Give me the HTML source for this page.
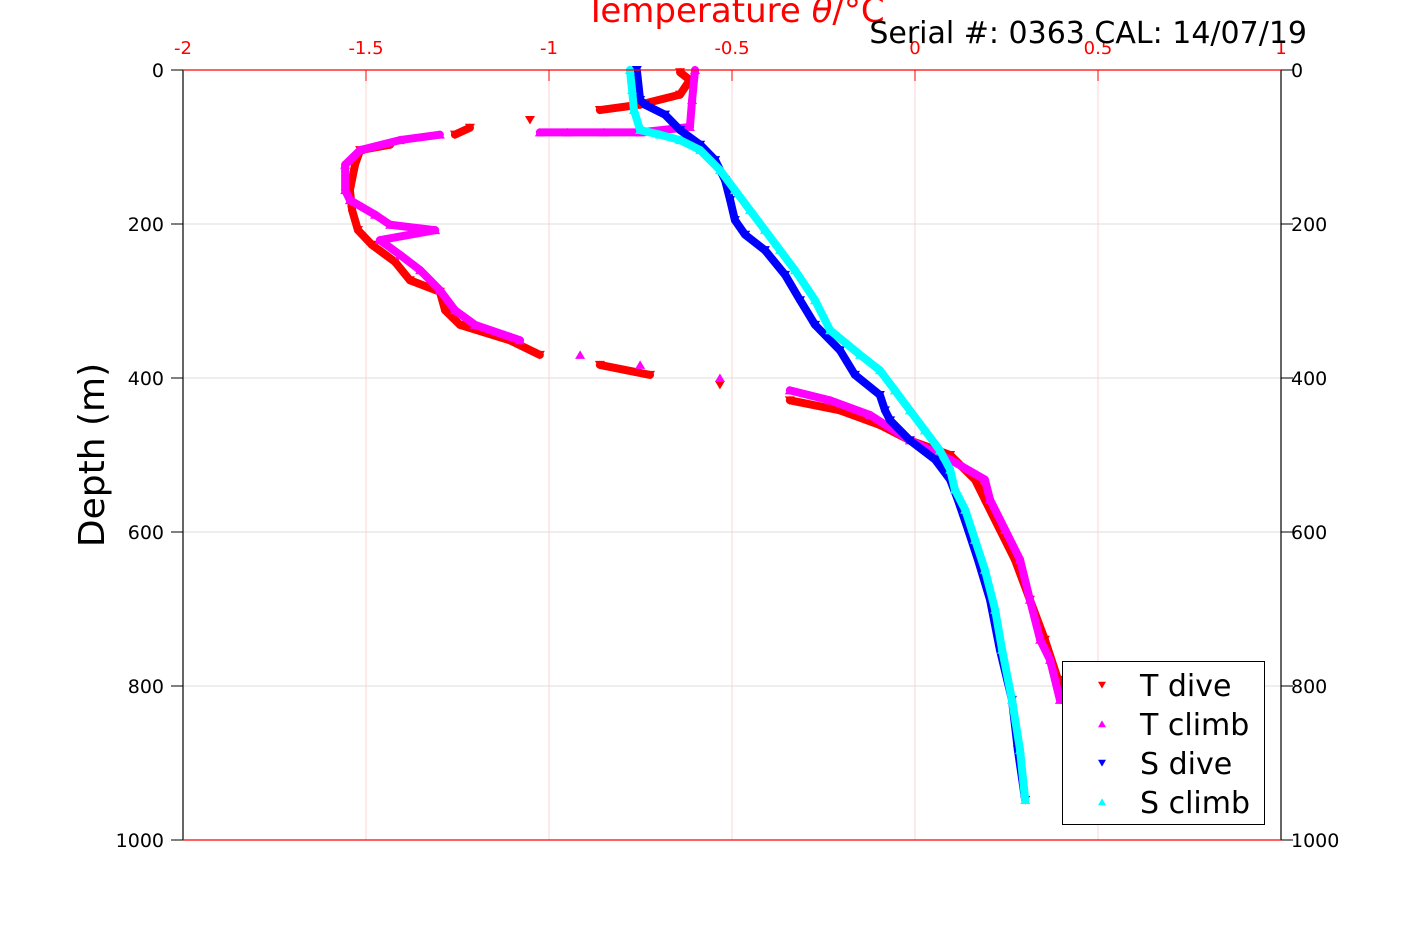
<!DOCTYPE html>
<html><head><meta charset="utf-8">
<style>
html,body{margin:0;padding:0;background:#fff;}
svg{display:block;font-family:"DejaVu Sans","Liberation Sans",sans-serif;}
</style></head>
<body>
<svg id="chart" width="1417" height="945" viewBox="0 0 1417 945" xmlns="http://www.w3.org/2000/svg">
<g id="grid"></g>
<g id="series"></g>
<g id="axes"></g>
<text x="735" y="22" fill="#ff0000" font-size="34" text-anchor="middle">Temperature <tspan font-style="italic">θ</tspan>/°C</text>
<text x="1307" y="43" fill="#000" font-size="30" text-anchor="end">Serial #: 0363  CAL: 14/07/19</text>
<text transform="translate(104,455) rotate(-90)" fill="#000" font-size="36" text-anchor="middle">Depth (m)</text>
<g id="legend">
<rect x="1062.5" y="661.5" width="202" height="163" fill="#fff" stroke="#000" stroke-width="1"/>
</g>
</svg>
<script>
const xTicks=[-2,-1.5,-1,-0.5,0,0.5,1];
const xTickLabels=["-2","-1.5","-1","-0.5","0","0.5","1"];
const yTicks=[0,200,400,600,800,1000];
const yTickLabels=["0","200","400","600","800","1000"];
const seriesNames=["T dive","T climb","S dive","S climb"];
const seriesColors=["#ff0000","#ff00ff","#0000ff","#00ffff"];
const seriesDown=[true,false,true,false];
const tDiveT=[-0.642,-0.615,-0.642,-0.751,-0.861,-1.052,-1.216,-1.257,-1.434,-1.516,-1.530,-1.544,-1.538,-1.522,-1.484,-1.421,-1.380,-1.298,-1.284,-1.243,-1.107,-1.025,-0.861,-0.724,-0.533,-0.342,-0.205,-0.096,-0.014,0.096,0.164,0.191,0.232,0.273,0.314,0.355,0.391,0.402];
const tDiveD=[3,13,32,45,52,65,75,84,97,104,123,156,182,208,227,249,273,288,312,331,351,370,383,396,409,429,442,461,481,500,532,558,597,636,688,740,792,818];
const tClimbT=[-0.601,-0.609,-0.615,-0.75,-0.85,-0.95,-1.025,-1.298,-1.407,-1.516,-1.557,-1.557,-1.544,-1.475,-1.434,-1.311,-1.462,-1.407,-1.352,-1.298,-1.257,-1.202,-1.079,-0.915,-0.751,-0.533,-0.342,-0.232,-0.123,-0.014,0.096,0.191,0.205,0.246,0.287,0.314,0.342,0.369,0.396];
const tClimbD=[0,39,74,81,81,81,81,84,91,104,123,156,169,188,201,208,221,240,260,286,312,331,351,370,383,400,416,429,448,481,506,532,558,597,636,688,740,766,818];
const sDiveT=[-0.760,-0.751,-0.738,-0.683,-0.642,-0.587,-0.546,-0.519,-0.505,-0.492,-0.464,-0.410,-0.355,-0.314,-0.273,-0.205,-0.164,-0.096,-0.082,-0.068,-0.014,0.055,0.096,0.117,0.145,0.172,0.205,0.232,0.265,0.281,0.301];
const sDiveD=[0,39,45,58,78,97,117,143,169,195,214,234,266,299,331,364,396,422,442,455,481,506,532,558,597,636,688,753,818,883,948];
const sClimbT=[-0.779,-0.773,-0.768,-0.751,-0.697,-0.642,-0.587,-0.533,-0.492,-0.451,-0.410,-0.369,-0.328,-0.273,-0.232,-0.150,-0.096,-0.055,-0.014,0.027,0.068,0.096,0.109,0.137,0.164,0.191,0.219,0.238,0.265,0.287,0.301];
const sClimbD=[0,26,52,78,84,91,104,130,156,182,208,234,260,299,338,370,390,416,442,468,494,519,545,571,610,649,701,753,818,883,948];

const X0=183,X1=1281,Y0=70,Y1=840;
const xs=v=>X0+(v+2)/3*(X1-X0);
const ys=d=>Y0+d/1000*(Y1-Y0);
const NS="http://www.w3.org/2000/svg";
function mk(tag,attrs,parent){const e=document.createElementNS(NS,tag);for(const k in attrs)e.setAttribute(k,attrs[k]);parent.appendChild(e);return e;}
const grid=document.getElementById('grid'),axes=document.getElementById('axes'),ser=document.getElementById('series'),leg=document.getElementById('legend');

xTicks.forEach((t,i)=>{
 const x=xs(t);
 if(i>0&&i<xTicks.length-1){const g=mk('line',{x1:x,x2:x,y1:Y0,y2:Y1,stroke:'#ffd6d6','stroke-width':1},grid);
 
 }
 const tk=mk('line',{x1:x,x2:x,y1:Y0,y2:Y0+11,stroke:'#ff0000','stroke-width':1},axes);
 
 
 const lb=mk('text',{x:x,y:Y0-16,fill:'#ff0000','font-size':18,'text-anchor':'middle'},axes);
 
 
 lb.textContent=xTickLabels[i];
});
yTicks.forEach((t,i)=>{
 const y=ys(t);
 if(i>0&&i<yTicks.length-1){const g=mk('line',{x1:X0,x2:X1,y1:y,y2:y,stroke:'#dcdcdc','stroke-width':1},grid);
 
 }
 const tl=mk('line',{x1:X0-12,x2:X0,y1:y,y2:y,stroke:'#000','stroke-width':1},axes);
 
 
 const tr=mk('line',{x1:X1,x2:X1+12,y1:y,y2:y,stroke:'#000','stroke-width':1},axes);
 
 
 const l1=mk('text',{x:X0-19,y:y+7,fill:'#000','font-size':19,'text-anchor':'end'},axes);
 
 
 l1.textContent=yTickLabels[i];
 const l2=mk('text',{x:X1+10,y:y+7,fill:'#000','font-size':19,'text-anchor':'start'},axes);
 
 
 l2.textContent=yTickLabels[i];
});
[[X0,Y0,X0,Y1,'#000','left-axis'],[X1,Y0,X1,Y1,'#000','right-axis'],[X0,Y0,X1,Y0,'#ff0000','top-axis'],[X0,Y1,X1,Y1,'#ff0000','bottom-axis']].forEach(a=>{
 const l=mk('line',{x1:a[0],y1:a[1],x2:a[2],y2:a[3],stroke:a[4],'stroke-width':1.2},axes);
 
 
});

function tri(x,y,down,s){return down?`${x-s},${y-s*0.8} ${x+s},${y-s*0.8} ${x},${y+s*0.9}`:`${x-s},${y+s*0.8} ${x+s},${y+s*0.8} ${x},${y-s*0.9}`;}
const allT=[tDiveT,tClimbT,sDiveT,sClimbT],allD=[tDiveD,tClimbD,sDiveD,sClimbD];
allT.forEach((T,si)=>{
 const D=allD[si],c=seriesColors[si];
 const g=mk('g',{},ser);
 
 
 for(let i=1;i<T.length;i++){
  const x1=xs(T[i-1]),y1=ys(D[i-1]),x2=xs(T[i]),y2=ys(D[i]);
  if(Math.hypot(x2-x1,y2-y1)<60){
   const l=mk('line',{x1:x1,y1:y1,x2:x2,y2:y2,stroke:c,'stroke-width':8,'stroke-linecap':'round'},g);
   
   
  }
 }
 T.forEach((t,i)=>{
  const p=mk('polygon',{points:tri(xs(t),ys(D[i]),seriesDown[si],5),fill:c},g);
  
  
 });
});

seriesNames.forEach((n,i)=>{
 const y=685+i*39;
 const m=mk('polygon',{points:tri(1102,y,seriesDown[i],4),fill:seriesColors[i]},leg);
 
 
 const t=mk('text',{x:1140,y:y+11,fill:'#000','font-size':30},leg);
 
 
 t.textContent=n;
});
</script>
</body></html>
